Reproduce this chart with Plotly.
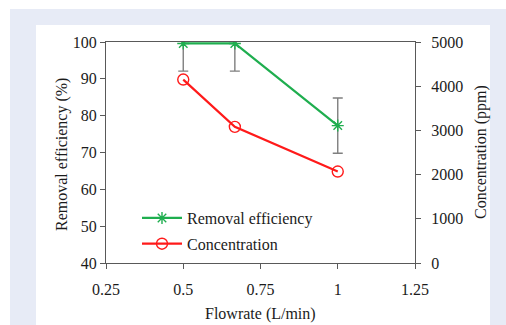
import plotly.graph_objects as go

# Data
flowrate = [0.5, 0.667, 1.0]                 # L/min
removal_efficiency = [99.6, 99.6, 77.3]      # %
removal_error = [7.5, 7.5, 7.5]              # %
concentration = [4150, 3080, 2070]           # ppm

x_ticks = [0.25, 0.5, 0.75, 1, 1.25]
x_tick_text = ["0.25", "0.5", "0.75", "1", "1.25"]

FONT = "Liberation Serif, Times New Roman, serif"
FS = 16
AXIS_COLOR = "#595959"
TEXT_COLOR = "#1b1b1b"
PANEL_BG = "#e7ebf6"

fig = go.Figure()

fig.add_trace(go.Scatter(
    x=flowrate, y=removal_efficiency, name="Removal efficiency",
    mode="lines+markers", legendgroup="eff",
    line=dict(color="#1fae4f", width=2.2),
    marker=dict(symbol="asterisk-open", size=10,
                line=dict(color="#1fae4f", width=1.4)),
    error_y=dict(type="data", array=removal_error, visible=True,
                 color="#7f7f7f", thickness=1.4, width=5),
    yaxis="y",
))

fig.add_trace(go.Scatter(
    x=flowrate, y=concentration, name="Concentration",
    mode="lines+markers", legendgroup="conc",
    line=dict(color="#ff1a1a", width=2.2),
    marker=dict(symbol="circle-open", size=11,
                line=dict(color="#ff1a1a", width=1.4)),
    yaxis="y2",
))

# plot area in pixels: x 106..415, y 42..263
L, R, T, B = 106, 415, 42, 263
W, H = 506, 325
pw, ph = R - L, B - T


def px_x(p):
    return (p - L) / pw


def px_y(p):
    return (B - p) / ph


shapes = [
    # light frame around the white panel
    dict(type="rect", xref="paper", yref="paper", layer="below",
         x0=px_x(10), x1=px_x(W + 5), y0=px_y(W), y1=px_y(9),
         fillcolor=PANEL_BG, line=dict(width=0)),
    dict(type="rect", xref="paper", yref="paper", layer="below",
         x0=px_x(36), x1=px_x(490), y0=px_y(W), y1=px_y(25),
         fillcolor="white", line=dict(width=0)),
]

annotations = [
    dict(text="Removal efficiency (%)", textangle=-90, showarrow=False,
         xref="paper", yref="paper", x=px_x(62), y=px_y(155),
         xanchor="center", yanchor="middle",
         font=dict(size=FS, family=FONT, color=TEXT_COLOR)),
    dict(text="Concentration (ppm)", textangle=-90, showarrow=False,
         xref="paper", yref="paper", x=px_x(481), y=px_y(152),
         xanchor="center", yanchor="middle",
         font=dict(size=FS, family=FONT, color=TEXT_COLOR)),
    dict(text="Flowrate (L/min)", showarrow=False,
         xref="paper", yref="paper", x=px_x(260), y=px_y(314),
         xanchor="center", yanchor="middle",
         font=dict(size=FS, family=FONT, color=TEXT_COLOR)),
]

fig.update_layout(
    width=W, height=H,
    margin=dict(l=L, r=W - R, t=T, b=H - B, autoexpand=False),
    paper_bgcolor="white", plot_bgcolor="white",
    font=dict(family=FONT, size=FS, color=TEXT_COLOR),
    showlegend=True,
    legend=dict(x=px_x(137), y=px_y(201), xanchor="left", yanchor="top",
                bgcolor="rgba(0,0,0,0)", font=dict(size=FS, family=FONT),
                tracegroupgap=2, itemwidth=40),
    shapes=shapes,
    annotations=annotations,
    xaxis=dict(
        range=[0.25, 1.25], tickvals=x_ticks, ticktext=x_tick_text,
        showgrid=False, zeroline=False, automargin=False,
        showline=True, linecolor=AXIS_COLOR, linewidth=1.3, mirror=True,
        ticks="outside", ticklen=5, tickcolor=AXIS_COLOR,
        ticklabelstandoff=7,
        tickfont=dict(size=FS, family=FONT),
    ),
    yaxis=dict(
        range=[40, 100], dtick=10, automargin=False,
        showgrid=False, zeroline=False,
        showline=True, linecolor=AXIS_COLOR, linewidth=1.3,
        ticks="outside", ticklen=5, tickcolor=AXIS_COLOR,
        tickfont=dict(size=FS, family=FONT),
    ),
    yaxis2=dict(
        range=[0, 5000], dtick=1000, overlaying="y", side="right",
        showgrid=False, zeroline=False, automargin=False,
        showline=True, linecolor=AXIS_COLOR, linewidth=1.3,
        ticks="outside", ticklen=5, tickcolor=AXIS_COLOR,
        ticklabelstandoff=7,
        tickfont=dict(size=FS, family=FONT),
    ),
)

fig.write_html("out.html")
